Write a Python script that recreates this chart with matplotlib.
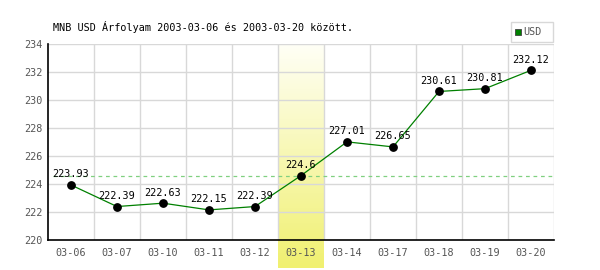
import numpy as np
import matplotlib
matplotlib.use('Agg')
import matplotlib.pyplot as plt
from matplotlib.patches import Rectangle

# chart data
dates = ['03-06', '03-07', '03-10', '03-11', '03-12', '03-13',
         '03-14', '03-17', '03-18', '03-19', '03-20']
rates = [223.93, 222.39, 222.63, 222.15, 222.39, 224.6,
         227.01, 226.65, 230.61, 230.81, 232.12]
highlight_idx = 5
y_ticks = [220, 222, 224, 226, 228, 230, 232, 234]
title = 'MNB USD Árfolyam 2003-03-06 és 2003-03-20 között.'
series_name = 'USD'

plt.rcParams['font.family'] = ['DejaVu Sans Mono']
fs = 7.3

fig = plt.figure(figsize=(6, 2.7), dpi=100)
ax = fig.add_axes([48 / 600, 30 / 270, 506 / 600, 196 / 270])

x = np.arange(len(dates))

# yellow highlighted day, gradient reaching below the axis
grad = np.linspace(0, 1, 256).reshape(-1, 1)
cmap = matplotlib.colors.LinearSegmentedColormap.from_list('hl', ['#fffff6', '#f0f070'])
ax.imshow(grad, extent=(highlight_idx - 0.5, highlight_idx + 0.5, 218, 234),
          origin='upper', aspect='auto', cmap=cmap, clip_on=False, zorder=0)

# grid
for yv in y_ticks[1:]:
    ax.axhline(yv, color='#d8d8d8', lw=1, zorder=1)
for xv in np.arange(0.5, len(dates), 1):
    ax.axvline(xv, color='#d8d8d8', lw=1, zorder=1)

# reference line at the highlighted day's rate
ax.plot([-0.4, len(dates) - 0.55], [rates[highlight_idx]] * 2, color='#80d080',
        lw=0.9, ls=(0, (3, 3)), zorder=2)

ax.plot(x, rates, color='#008000', lw=0.9, zorder=3)
ax.scatter(x, rates, s=28, color='black', zorder=4)
for xi, r in zip(x, rates):
    ax.annotate(f'{r:g}', (xi, r), xytext=(0, 4), textcoords='offset points',
                ha='center', va='bottom', fontsize=fs, color='black', zorder=5)

ax.set_xlim(-0.5, len(dates) - 0.5)
ax.set_ylim(220, 234)
ax.set_xticks(x)
ax.set_xticklabels(dates)
ax.set_yticks(y_ticks)
ax.tick_params(length=0, labelsize=fs, labelcolor='#555555', pad=6)
ax.tick_params(axis='y', pad=4)
for s in ['top', 'right']:
    ax.spines[s].set_visible(False)
for s in ['left', 'bottom']:
    ax.spines[s].set_color('black')
    ax.spines[s].set_linewidth(1.2)
    ax.spines[s].set_zorder(6)

fig.text(53 / 600, 1 - 27 / 270, title, fontsize=fs, va='center', ha='left')

# legend box
fig.patches.append(Rectangle((511 / 600, 1 - 42 / 270), 42 / 600, 20 / 270,
                             transform=fig.transFigure, fill=False,
                             edgecolor='#d8d8d8', lw=1))
fig.patches.append(Rectangle((515 / 600, 1 - 35 / 270), 6 / 600, 6 / 270,
                             transform=fig.transFigure, facecolor='#008000',
                             edgecolor='#404040', lw=0.6))
fig.text(523 / 600, 1 - 32 / 270, series_name, fontsize=fs, va='center',
         ha='left', color='#555555')

fig.savefig('out.png', dpi=100)
